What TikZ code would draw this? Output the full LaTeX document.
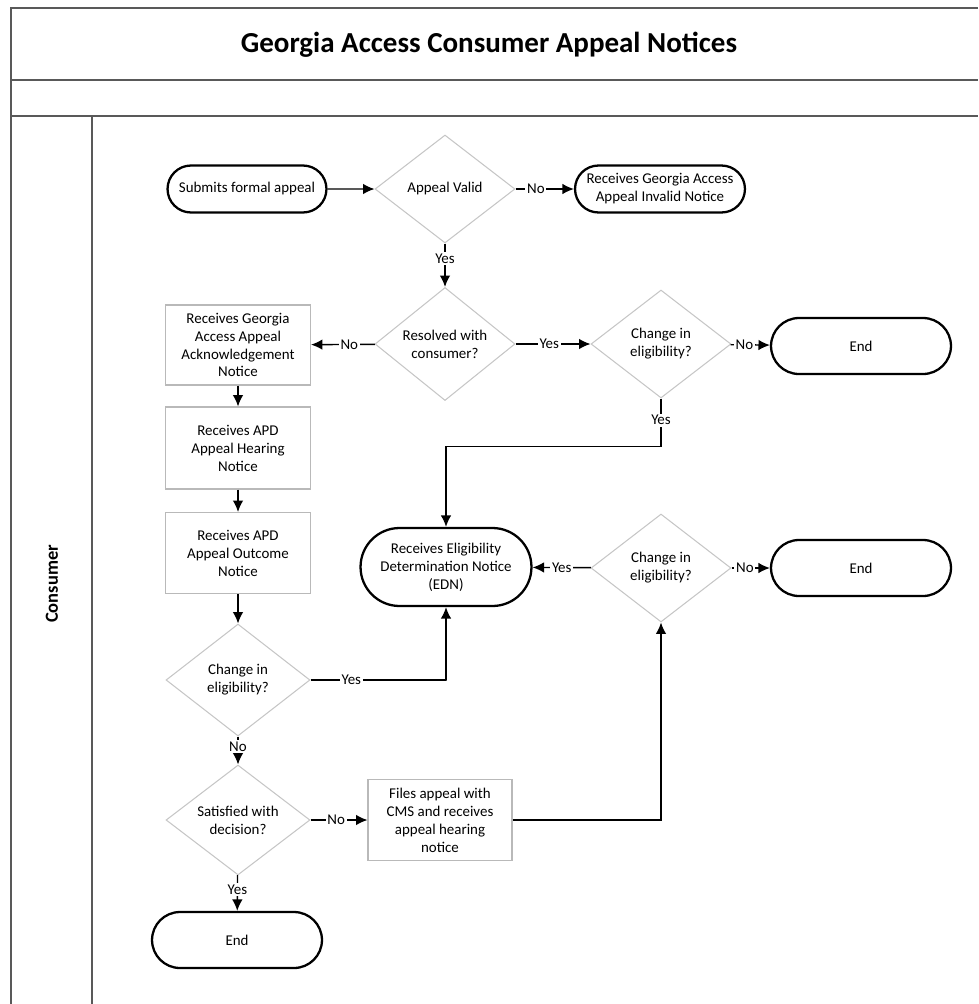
\documentclass[tikz,border=0pt]{standalone}
\usepackage{fontspec}
\setmainfont{Carlito}
\usetikzlibrary{shapes.geometric,shapes.misc,arrows.meta}

\tikzset{
  term/.style={rounded rectangle,draw=black,line width=1.3pt,align=center,inner sep=2pt},
  box/.style={rectangle,draw=gray!55,line width=0.6pt,align=center,inner sep=2pt},
  decision/.style={diamond,draw=gray!45,line width=0.6pt,align=center,inner sep=0pt,
    minimum width=2.8cm,minimum height=2.16cm},
  lbl/.style={fill=white,inner sep=1pt},
  flow/.style={->,line width=0.8pt}
}

\begin{document}
\begin{tikzpicture}[x=0.02cm,y=-0.02cm,>={Latex[length=6.5pt,width=6pt]},
  font=\fontsize{8.5}{10.2}\selectfont]
\useasboundingbox (0,0) rectangle (978,1004);

% pool and lane
\draw[gray!70!black,line width=1.2pt] (11,1004) -- (11,8) -- (978,8);
\draw[gray!70!black,line width=1.2pt] (11,80) -- (978,80);
\draw[gray!70!black,line width=1.2pt] (11,116) -- (978,116);
\draw[gray!70!black,line width=0.8pt] (92,116) -- (92,1004);
\node (title) at (489,45) {\fontsize{16.5}{20}\selectfont\bfseries Georgia Access Consumer Appeal Notices};
\node[rotate=90] (lane) at (52,584) {\fontsize{10.5}{12}\selectfont\bfseries Consumer};

% first row
\node[term,minimum width=3.32cm,minimum height=0.94cm] (submit) at (247,189) {Submits formal appeal};
\node[decision] (valid) at (445,189) {Appeal Valid};
\node[term,minimum width=3.54cm,minimum height=0.94cm] (invalid) at (660,189) {Receives Georgia Access\\Appeal Invalid Notice};

% second row
\node[decision] (resolved) at (445,344) {Resolved with\\consumer?};
\node[box,minimum width=2.9cm,minimum height=1.6cm] (ack) at (238,345) {Receives Georgia\\Access Appeal\\Acknowledgement\\Notice};
\node[decision] (change1) at (661,344) {Change in\\eligibility?};
\node[term,minimum width=3.74cm,minimum height=1.12cm] (end1) at (861,346) {End};

% left column
\node[box,minimum width=2.9cm,minimum height=1.64cm] (hearing) at (238,448) {Receives APD\\Appeal Hearing\\Notice};
\node[box,minimum width=2.9cm,minimum height=1.62cm] (outcome) at (238,553) {Receives APD\\Appeal Outcome\\Notice};
\node[decision,minimum width=2.88cm,minimum height=2.24cm] (change3) at (238,680) {Change in\\eligibility?};
\node[decision,minimum width=2.88cm,minimum height=2.2cm] (satisfied) at (238,820) {Satisfied with\\decision?};
\node[term,minimum width=3.54cm,minimum height=1.12cm] (end3) at (237,940) {End};

% middle
\node[term,minimum width=3.56cm,minimum height=1.56cm] (edn) at (446,567) {Receives Eligibility\\Determination Notice\\(EDN)};
\node[decision] (change2) at (661,568) {Change in\\eligibility?};
\node[term,minimum width=3.74cm,minimum height=1.12cm] (end2) at (861,568) {End};
\node[box,minimum width=2.88cm,minimum height=1.62cm] (files) at (440,820) {Files appeal with\\CMS and receives\\appeal hearing\\notice};

% connectors
\draw[flow] (submit) -- (valid);
\draw[flow] (valid) -- node[lbl,pos=0.35] {No} (invalid);
\draw[flow] (valid) -- node[lbl,pos=0.35] {Yes} (resolved);
\draw[flow] (resolved) -- node[lbl,pos=0.4] {No} (ack);
\draw[flow] (resolved) -- node[lbl,pos=0.45] {Yes} (change1);
\draw[flow] (change1) -- node[lbl,pos=0.35] {No} (end1);
\draw[flow] (change1.south) -- node[lbl,pos=0.45] {Yes} ++(0,48) -| (edn.north);
\draw[flow] (ack) -- (hearing);
\draw[flow] (hearing) -- (outcome);
\draw[flow] (outcome) -- (change3);
\draw[flow] (change3.east) -- node[lbl,pos=0.3] {Yes} ++(136,0) -| (edn.south);
\draw[flow] (change3) -- node[lbl,pos=0.35] {No} (satisfied);
\draw[flow] (satisfied) -- node[lbl,pos=0.45] {No} (files);
\draw[flow] (satisfied) -- node[lbl,pos=0.4] {Yes} (end3);
\draw[flow] (files.east) -| (change2.south);
\draw[flow] (change2) -- node[lbl,pos=0.5] {Yes} (edn);
\draw[flow] (change2) -- node[lbl,pos=0.35] {No} (end2);
\end{tikzpicture}
\end{document}
